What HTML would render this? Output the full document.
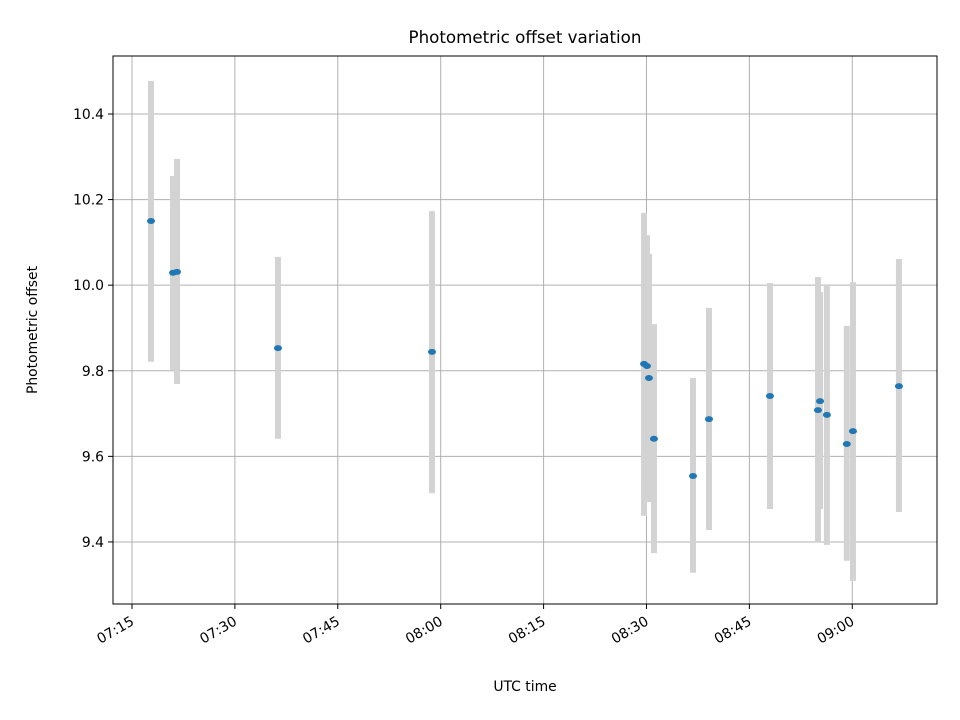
<!DOCTYPE html>
<html><head><meta charset="utf-8"><style>
body{margin:0;background:#fff;}
svg{display:block;font-family:"DejaVu Sans","Liberation Sans",sans-serif;}
</style></head><body>
<svg id="chart" width="960" height="720" xmlns="http://www.w3.org/2000/svg">
<rect width="960" height="720" fill="#fff"/>
<text x="525" y="43" font-size="16.7" text-anchor="middle">Photometric offset variation</text>
<g id="grid"></g>
<g id="bars"></g>
<g id="pts"></g>
<rect x="113" y="56" width="824" height="548" fill="none" stroke="#000" stroke-width="1"/>
<g id="axes"></g>
<text x="525" y="691" font-size="13.9" text-anchor="middle">UTC time</text>
<text transform="translate(37,330) rotate(-90)" font-size="13.9" text-anchor="middle">Photometric offset</text>
</svg>
<script>
// minutes since 07:00
const times=[17.77,20.98,21.56,36.28,58.73,89.64,90.07,90.36,91.09,96.78,99.11,108.0,115.0,115.3,116.3,119.2,120.1,126.8];
const values=[10.150,10.029,10.031,9.853,9.844,9.816,9.811,9.783,9.641,9.554,9.687,9.741,9.708,9.729,9.697,9.629,9.659,9.764];
const upper=[10.477,10.255,10.295,10.066,10.173,10.169,10.117,10.073,9.909,9.783,9.947,10.005,10.019,9.984,9.998,9.905,10.007,10.061];
const lower=[9.821,9.802,9.769,9.641,9.514,9.461,9.545,9.493,9.374,9.328,9.428,9.477,9.398,9.477,9.393,9.356,9.309,9.470];
const xTicks=[15,30,45,60,75,90,105,120];
const xTickLabels=["07:15","07:30","07:45","08:00","08:15","08:30","08:45","09:00"];
const yTicks=[9.4,9.6,9.8,10.0,10.2,10.4];
const yTickLabels=["9.4","9.6","9.8","10.0","10.2","10.4"];

const L=113,R=937,T=56,B=604;
const x0=12.23,x1=132.35,y0=9.255,y1=10.5355;
const xs=t=>L+(t-x0)/(x1-x0)*(R-L);
const ys=v=>B-(v-y0)/(y1-y0)*(B-T);
const NS="http://www.w3.org/2000/svg";
function mk(tag,attrs,parent){const e=document.createElementNS(NS,tag);for(const k in attrs)e.setAttribute(k,attrs[k]);parent.appendChild(e);return e;}
const grid=document.getElementById('grid'),axes=document.getElementById('axes'),bars=document.getElementById('bars'),pts=document.getElementById('pts');
xTicks.forEach((t,i)=>{
  const x=xs(t);
  const g=mk('line',{x1:x,x2:x,y1:T,y2:B,stroke:'#b0b0b0','stroke-width':1},grid);
  
  
  const tk=mk('line',{x1:x,x2:x,y1:B,y2:B+5,stroke:'#000'},axes);
  
  
  const ax=x+3,ay=B+20;
  const tx=mk('text',{x:ax,y:ay,'font-size':13.9,'text-anchor':'end',transform:`rotate(-30 ${ax} ${ay})`},axes);
  tx.textContent=xTickLabels[i];
  
  
});
yTicks.forEach((v,i)=>{
  const y=ys(v);
  const g=mk('line',{x1:L,x2:R,y1:y,y2:y,stroke:'#b0b0b0','stroke-width':1},grid);
  
  
  const tk=mk('line',{x1:L-5,x2:L,y1:y,y2:y,stroke:'#000'},axes);
  
  
  const tx=mk('text',{x:L-9,y:y+5,'font-size':13.9,'text-anchor':'end'},axes);
  tx.textContent=yTickLabels[i];
  
  
});
times.forEach((t,i)=>{
  const x=xs(t);
  const b=mk('rect',{x:x-3,y:ys(upper[i]),width:6,height:ys(lower[i])-ys(upper[i]),fill:'#d3d3d3'},bars);
  
  
  const p=mk('ellipse',{cx:x,cy:ys(values[i]),rx:4,ry:3,fill:'#1f77b4'},pts);
  
  
});
</script>
</body></html>
